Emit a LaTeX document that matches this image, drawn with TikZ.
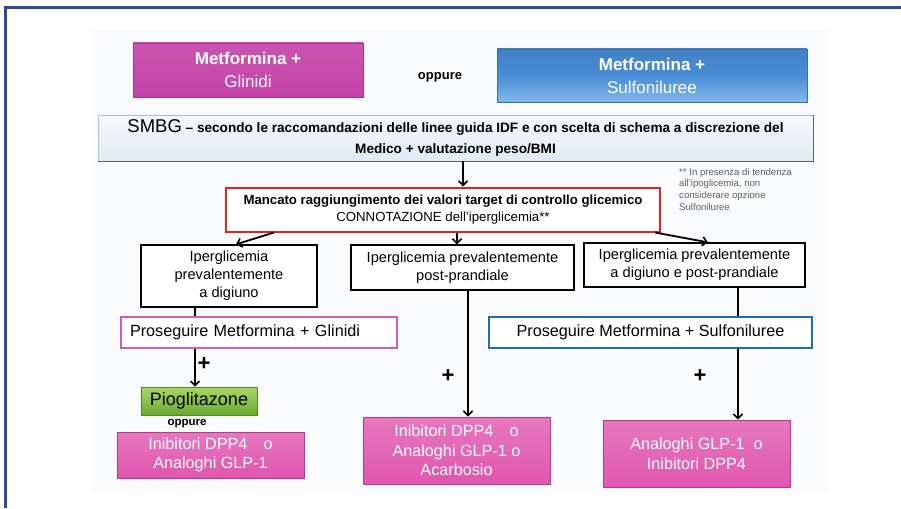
\documentclass[tikz,border=0pt]{standalone}
\usepackage{fontspec}
\setmainfont{Liberation Sans}
\usetikzlibrary{arrows.meta}
\definecolor{framebl}{RGB}{45,75,154}
\definecolor{magbox}{RGB}{196,66,168}
\definecolor{magboxdk}{RGB}{170,48,145}
\definecolor{bluebox}{RGB}{72,140,214}
\definecolor{blueboxlt}{RGB}{130,185,235}
\definecolor{pinkfill}{RGB}{224,86,174}
\definecolor{pinkdk}{RGB}{184,58,140}
\definecolor{pinkedge}{RGB}{208,92,185}
\definecolor{sulfedge}{RGB}{30,106,190}
\definecolor{redge}{RGB}{224,34,34}
\definecolor{greentop}{RGB}{170,216,100}
\definecolor{greenbot}{RGB}{104,170,52}
\definecolor{smbgtop}{RGB}{246,248,252}
\definecolor{smbgbot}{RGB}{226,233,243}
\definecolor{notegray}{RGB}{95,95,95}
\definecolor{pagebg}{RGB}{250,251,253}
\tikzset{
  box/.style={draw=black, line width=1.3pt, fill=white, inner sep=0pt, align=center,
              font=\fontsize{14.6}{17.8}\selectfont},
  pinkbox/.style={draw=pinkdk, line width=0.8pt, top color=pinkfill!80!white, bottom color=pinkfill,
              inner sep=0pt, align=center, text=white, font=\fontsize{16.2}{19.5}\selectfont},
  linkline/.style={line width=1.8pt, black},
  arr/.style={linkline, -{Straight Barb[length=4.5pt,width=9pt,line width=1.6pt]}},
  plus/.style={font=\bfseries\fontsize{22}{22}\selectfont, inner sep=0pt},
}
\begin{document}
\begin{tikzpicture}[x=1pt,y=-1pt]
\useasboundingbox (0,0) rectangle (901,508);
\fill[white] (0,0) rectangle (901,508);
% soft panel behind the chart
\fill[pagebg] (92,30) rectangle (828,493);
% outer frame (top and left rules)
\draw[framebl, line width=3pt] (5,508) -- (5,8) -- (901,8);

% starting therapies
\node[draw=magboxdk, line width=0.6pt, top color=magbox!90!white, bottom color=magbox,
      minimum width=230pt, minimum height=54pt, inner sep=0pt, text=white, align=center,
      font=\fontsize{17}{23}\selectfont] (mg) at (248,70)
      {\textbf{Metformina +}\\Glinidi};
\node[font=\bfseries\fontsize{13}{14}\selectfont, inner sep=0pt] (opt) at (440,77) {oppure};
\node[draw=bluebox!80!black, line width=0.6pt, top color=bluebox!92!black, bottom color=blueboxlt,
      middle color=bluebox, minimum width=310pt, minimum height=53pt, inner sep=0pt, text=white,
      align=center, font=\fontsize{17}{23}\selectfont] (ms) at (652,75.5)
      {\textbf{Metformina +}\\Sulfoniluree};

% monitoring bar
\node[draw=gray!55, line width=0.8pt, top color=smbgtop, bottom color=smbgbot,
      minimum width=715pt, minimum height=46pt, inner sep=0pt, align=center,
      font=\bfseries\fontsize{13.6}{21}\selectfont] (smbg) at (455.5,138)
      {{\mdseries\fontsize{18.5}{21}\selectfont SMBG} -- secondo le raccomandazioni delle linee guida IDF e con scelta di schema a discrezione del\\
       Medico + valutazione peso/BMI};
\draw[gray!75!black, line width=1.6pt] (smbg.south west) -- (smbg.south east) -- (smbg.north east);

% target not reached
\node[draw=redge, line width=2pt, fill=white, minimum width=434pt, minimum height=44pt,
      inner sep=0pt, align=center, font=\fontsize{13.2}{17.5}\selectfont] (red) at (443,209.5)
      {\textbf{Mancato raggiungimento dei valori target di controllo glicemico}\\
       CONNOTAZIONE dell'iperglicemia**};
\node[anchor=north west, inner sep=0pt, align=left, text=notegray,
      font=\fontsize{9.6}{11.8}\selectfont] (note) at (679,168)
      {** In presenza di tendenza\\all'ipoglicemia, non\\considerare opzione\\Sulfoniluree};

% kinds of hyperglycaemia
\node[box, minimum width=176pt, minimum height=62pt] (b1) at (229,276)
      {Iperglicemia\\prevalentemente\\a digiuno};
\node[box, minimum width=223pt, minimum height=45pt] (b2) at (462.5,267.5)
      {Iperglicemia prevalentemente\\post-prandiale};
\node[box, minimum width=221pt, minimum height=44pt] (b3) at (694.5,265)
      {Iperglicemia prevalentemente\\a digiuno e post-prandiale};

% continue current therapy
\node[draw=pinkedge, line width=2.2pt, fill=white, minimum width=276pt, minimum height=31pt,
      inner sep=0pt, font=\fontsize{16.2}{18}\selectfont, text width=258pt, align=left] (pg) at (259,332.5)
      {Proseguire Metformina + Glinidi};
\node[draw=sulfedge, line width=2.5pt, fill=white, minimum width=323pt, minimum height=31pt,
      inner sep=0pt, font=\fontsize{16.2}{18}\selectfont, align=center] (ps) at (650.5,332.5)
      {Proseguire Metformina + Sulfoniluree};

% add-on options
\node[draw=greenbot!80!black, line width=0.6pt, top color=greentop, bottom color=greenbot,
      minimum width=116pt, minimum height=28pt, inner sep=0pt,
      font=\fontsize{18}{20}\selectfont] (pio) at (199,401) {Pioglitazone};
\node[font=\bfseries\fontsize{11.5}{12}\selectfont, inner sep=0pt] (or2) at (187,424) {oppure};
\node[pinkbox, minimum width=187pt, minimum height=46pt] (k1) at (210.5,455)
      {Inibitori DPP4\quad o\\Analoghi GLP-1};
\node[pinkbox, minimum width=187pt, minimum height=67pt] (k2) at (456.5,450.5)
      {Inibitori DPP4\quad o\\Analoghi GLP-1 o\\Acarbosio};
\node[pinkbox, minimum width=187pt, minimum height=67pt] (k3) at (696.5,453.5)
      {Analoghi GLP-1\ \ o\\Inibitori DPP4};

% plus signs
\node[plus] (p1) at (204,364) {+};
\node[plus] (p2) at (448,376) {+};
\node[plus] (p3) at (700,376) {+};

% connectors
\draw[arr] (smbg.south -| 463,0) -- (red.north -| 463,0);
\draw[arr] (red.south -| 274,0) -- (b1.north -| 236,0);
\draw[arr] (red.south -| 457,0) -- (b2.north -| 457,0);
\draw[arr] (red.south -| 655,0) -- (b3.north -| 708,0);
\draw[linkline] (b1.south -| 195,0) -- (pg.north -| 195,0);
\draw[arr] (pg.south -| 195,0) -- (pio.north -| 195,0);
\draw[arr] (b2.south -| 468,0) -- (k2.north -| 468,0);
\draw[linkline] (b3.south -| 738,0) -- (ps.north -| 738,0);
\draw[arr] (ps.south -| 738,0) -- (k3.north -| 738,0);
\end{tikzpicture}
\end{document}
